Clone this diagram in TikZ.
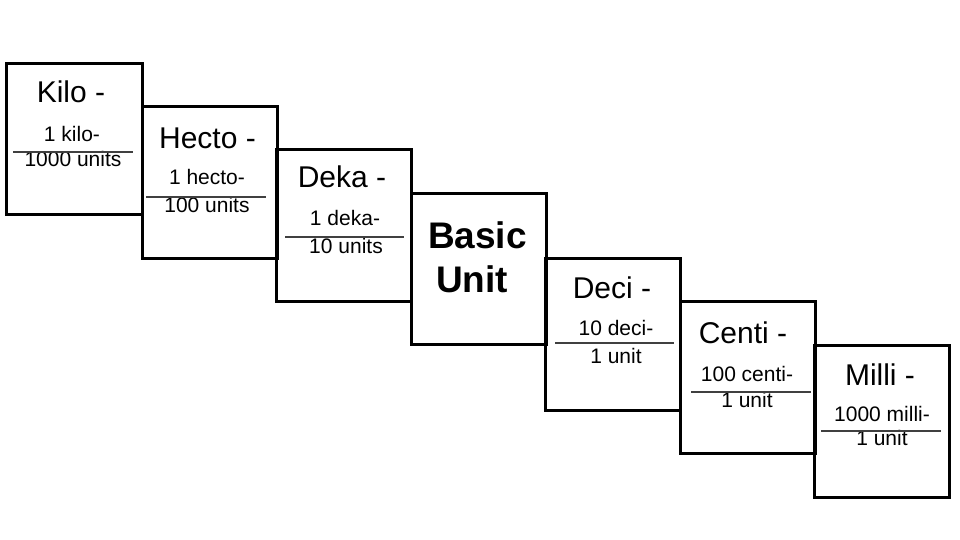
\documentclass[tikz,border=0pt]{standalone}
\usepackage{fontspec}
\setmainfont{Liberation Sans}
\begin{document}
\begin{tikzpicture}[x=1pt,y=-1pt,
 box/.style={draw, line width=2.6pt, minimum width=135pt, minimum height=152pt, inner sep=0pt, anchor=north west},
 title/.style={anchor=base, inner sep=0pt, font=\fontsize{30}{31}\selectfont},
 frac/.style={anchor=base, inner sep=0pt, font=\fontsize{21}{22}\selectfont},
 big/.style={anchor=base, inner sep=0pt, font=\bfseries\fontsize{37}{44}\selectfont},
 bar/.style={line width=1.3pt, draw=black!75}]
\useasboundingbox (0,0) rectangle (960,540);
% boxes
\node[box, minimum width=136pt, minimum height=151pt] (kilo) at (5,62) {};
\node[box] (hecto) at (141,105) {};
\node[box] (deka) at (275,148) {};
\node[box, minimum height=151pt] (basic) at (410,192) {};
\node[box] (deci) at (544,257) {};
\node[box] (centi) at (679,300) {};
\node[box] (milli) at (813,344) {};
% Kilo
\node[title] (kilot) at (71,103) {Kilo -};
\node[frac] (kilon) at (72,142) {1 kilo-};
\node[frac] (kilod) at (73,167) {1000 units};
\draw[bar] (13,152) -- (133,152);
% Hecto
\node[title] (hectot) at (207.5,149) {Hecto -};
\node[frac] (hecton) at (207,185) {1 hecto-};
\node[frac] (hectod) at (207,212) {100 units};
\draw[bar] (146,197) -- (266,197);
% Deka
\node[title] (dekat) at (342,187) {Deka -};
\node[frac] (dekan) at (345,225) {1 deka-};
\node[frac] (dekad) at (346,253) {10 units};
\draw[bar] (285,237) -- (404,237);
% Basic unit
\node[big] (basict) at (477.5,248) {Basic};
\node[big] (unitt) at (472,292) {Unit};
% Deci
\node[title] (decit) at (612,298) {Deci -};
\node[frac] (decin) at (616,335) {10 deci-};
\node[frac] (decid) at (616,363) {1 unit};
\draw[bar] (555,343) -- (674,343);
% Centi
\node[title] (centit) at (743,343) {Centi -};
\node[frac] (centin) at (747,381) {100 centi-};
\node[frac] (centid) at (747,407) {1 unit};
\draw[bar] (691,392) -- (811,392);
% Milli
\node[title] (millit) at (880,385) {Milli -};
\node[frac] (millin) at (882,421) {1000 milli-};
\node[frac] (millid) at (882,445) {1 unit};
\draw[bar] (821,431) -- (941,431);
\end{tikzpicture}
\end{document}
